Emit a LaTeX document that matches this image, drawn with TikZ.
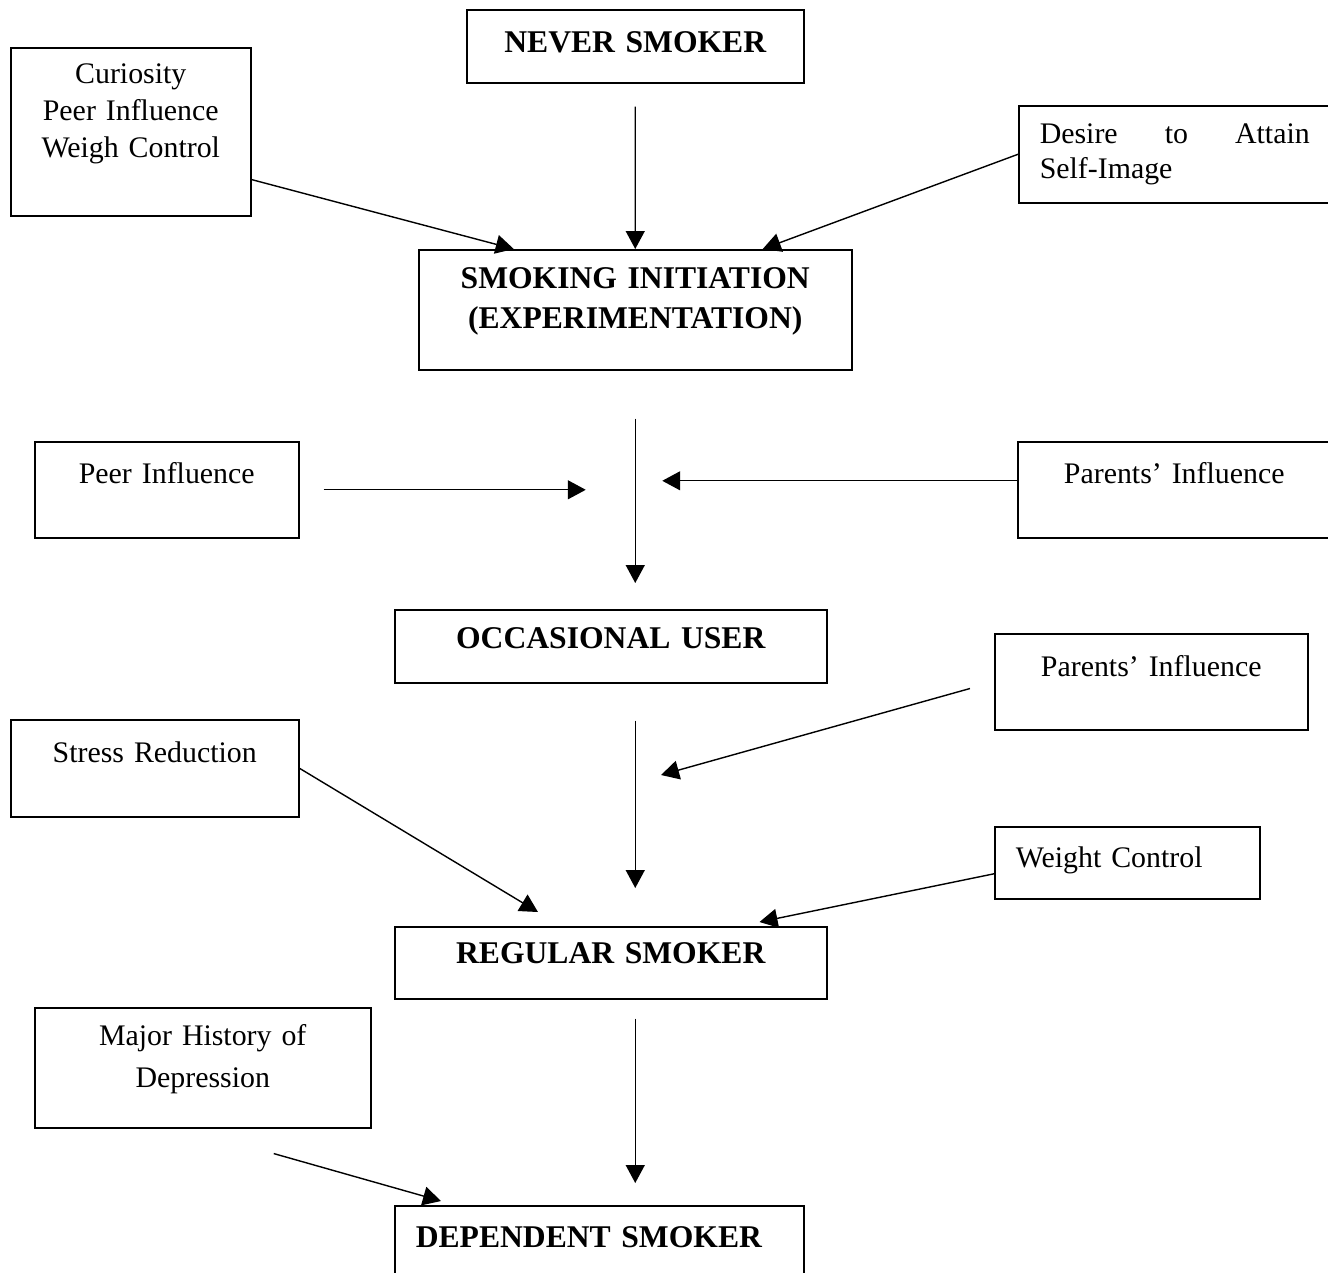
\documentclass[tikz,border=0pt]{standalone}
\usepackage{fontspec}
\setmainfont{Liberation Serif}
\usetikzlibrary{arrows.meta}

\begin{document}
\begin{tikzpicture}[
      x = 0.02cm, y = -0.02cm,
      box/.style   = {draw, line width = .9pt, inner sep = 0pt, anchor = north west,
                      align = center, font = \fontsize{17}{21}\selectfont},
      lbox/.style  = {box, align = left, inner xsep = .42cm},
      stage/.style = {box, font = \fontsize{18}{22.7}\selectfont\bfseries},
      arr/.style   = {-{Triangle[length = 3.6mm, width = 3.8mm]}, line width = .8pt}
    ]
  \useasboundingbox (0,0) rectangle (1328,1272);

  % ---------- stages ---------------------------------------------------
  \node[stage, text width = 6.74cm, text height = .86cm, text depth = .60cm]
        (never) at (466,9) {NEVER SMOKER};
  \node[stage, text width = 8.66cm, text height = .78cm, text depth = 1.62cm]
        (init) at (418,249) {SMOKING INITIATION\\(EXPERIMENTATION)};
  \node[stage, text width = 8.64cm, text height = .78cm, text depth = .68cm]
        (occ) at (394,609) {OCCASIONAL USER};
  \node[stage, text width = 8.64cm, text height = .74cm, text depth = .70cm]
        (reg) at (394,926) {REGULAR SMOKER};
  \node[stage, align = left, inner xsep = .42cm, text width = 7.34cm,
        text height = .84cm, text depth = 1.06cm]
        (dep) at (394,1205) {DEPENDENT SMOKER};

  % ---------- factors --------------------------------------------------
  \node[box, text width = 4.80cm, text height = .72cm, text depth = 2.64cm]
        (curio) at (10,47) {Curiosity\\Peer Influence\\Weigh Control};
  \node[lbox, text width = 5.40cm, text height = .76cm, text depth = 1.18cm]
        (desire) at (1018,105) {Desire\hfill to\hfill Attain\\[-1.2pt]Self-Image};
  \node[box, text width = 5.28cm, text height = .84cm, text depth = 1.08cm]
        (peer) at (34,441) {Peer Influence};
  \node[box, text width = 6.26cm, text height = .84cm, text depth = 1.08cm]
        (par1) at (1017,441) {Parents' Influence};
  \node[box, text width = 6.26cm, text height = .86cm, text depth = 1.06cm]
        (par2) at (994,633) {Parents' Influence};
  \node[box, text width = 5.76cm, text height = .86cm, text depth = 1.08cm]
        (stress) at (10,719) {Stress Reduction};
  \node[lbox, text width = 4.46cm, text height = .82cm, text depth = .62cm]
        (weight) at (994,826) {Weight Control};
  \node[box, text width = 6.72cm, text height = .76cm, text depth = 1.64cm]
        (major) at (34,1007) {Major History of\\[2.8pt]Depression};

  \coordinate (join2) at (661,775);

  % ---------- arrows ---------------------------------------------------
  \draw[arr, shorten <= .46cm] (never.south) -- (init.north);
  \draw[arr] ([yshift = .74cm]curio.south east) -- ([xshift = -2.43cm]init.north);
  \draw[arr] (desire.west) -- ([xshift = 2.55cm]init.north);

  \draw[arr, shorten <= .96cm, shorten >= .52cm] (init.south) -- (init.south |- occ.north);
  \draw[arr, shorten <= .48cm, shorten >= .99cm] (peer.east) -- (peer.east -| init.south);
  \draw[arr, shorten >= .54cm] ([yshift = .18cm]par1.west) -- ([yshift = .18cm]par1.west -| init.south);

  \draw[arr, shorten <= .74cm, shorten >= .76cm] (init.south |- occ.south) -- (init.south |- reg.north);
  \draw[arr, shorten <= .5cm] (par2.west) -- (join2);
  \draw[arr] (stress.east) -- ([xshift = 2.88cm, yshift = .28cm]reg.north west);
  \draw[arr] ([yshift = -.22cm]weight.west) -- ([xshift = -1.36cm, yshift = .08cm]reg.north east);

  \draw[arr, shorten <= .38cm, shorten >= .44cm] (init.south |- reg.south) -- (init.south |- dep.north);
  \draw[arr] ([xshift = 1.42cm, yshift = -.5cm]major.south) -- ([xshift = .94cm, yshift = .08cm]dep.north west);

\end{tikzpicture}
\end{document}
